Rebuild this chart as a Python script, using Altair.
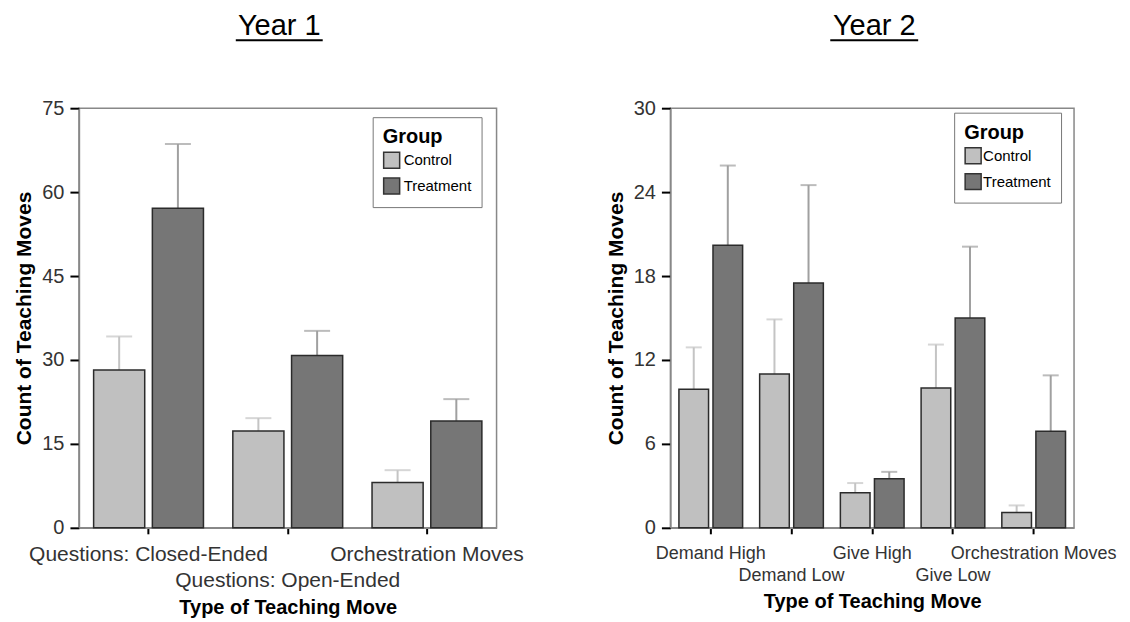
import altair as alt
import pandas as pd

# ---- data ----
groups = ["Control", "Treatment"]

y1_categories = ["Questions: Closed-Ended", "Questions: Open-Ended", "Orchestration Moves"]
y1_control = [28.2, 17.3, 8.1]
y1_control_upper = [34.2, 19.6, 10.3]
y1_treatment = [57.1, 30.8, 19.1]
y1_treatment_upper = [68.6, 35.2, 23.0]
y1_ticks = [0, 15, 30, 45, 60, 75]

y2_categories = ["Demand High", "Demand Low", "Give High", "Give Low", "Orchestration Moves"]
y2_control = [9.9, 11.0, 2.5, 10.0, 1.1]
y2_control_upper = [12.9, 14.9, 3.2, 13.1, 1.6]
y2_treatment = [20.2, 17.5, 3.5, 15.0, 6.9]
y2_treatment_upper = [25.9, 24.5, 4.0, 20.1, 10.9]
y2_ticks = [0, 6, 12, 18, 24, 30]

y1_second_row = ["Questions: Open-Ended"]
y2_second_row = ["Demand Low", "Give Low"]

FONT = "Liberation Sans"


def make_df(cats, c, cu, t, tu):
    rows = []
    for i, cat in enumerate(cats):
        rows.append({"category": cat, "group": "Control", "value": c[i], "upper": cu[i]})
        rows.append({"category": cat, "group": "Treatment", "value": t[i], "upper": tu[i]})
    return pd.DataFrame(rows)


def panel(cats, c, cu, t, tu, ticks, second_row, title_text, width, label_fs,
          line_h, legend_x, legend_y, cap, title_x, ul_half, lab_pad, x_title_pad, leg_lab_off):
    df = make_df(cats, c, cu, t, tu)
    lst = "[" + ",".join("'" + s + "'" for s in second_row) + "]"
    x_axis = alt.Axis(
        title="Type of Teaching Move", titleFontSize=20, titleFontWeight="bold",
        titleColor="#000", titlePadding=x_title_pad,
        labelFontSize=label_fs, labelColor="#333", labelAngle=0, labelOverlap=False,
        labelLimit=0, labelBound=False, labelFlush=False, labelPadding=lab_pad,
        labelLineHeight=line_h, labelBaseline="top",
        labelExpr="indexof(" + lst + ", datum.value) >= 0 ? ['', datum.value] : datum.value",
        domainColor="#888", domainWidth=1.5, tickColor="#000", tickWidth=2, tickSize=6,
    )
    y_axis = alt.Axis(
        title="Count of Teaching Moves", titleFontSize=21, titleFontWeight="bold",
        titleColor="#000", titlePadding=7, values=ticks,
        labelFontSize=20, labelColor="#333", labelPadding=6,
        domainColor="#888", domainWidth=1.5, tickColor="#000", tickWidth=2, tickSize=9,
        grid=False,
    )
    base = alt.Chart(df).encode(
        x=alt.X("category:N", sort=cats, axis=x_axis,
                scale=alt.Scale(paddingInner=0, paddingOuter=0)),
        xOffset=alt.XOffset("group:N", sort=groups,
                            scale=alt.Scale(paddingInner=0.13, paddingOuter=0.25)),
    )
    err_color = alt.condition(alt.datum.group == "Control", alt.value("#c4c4c4"), alt.value("#a0a0a0"))
    rules = base.mark_rule(strokeWidth=2).encode(
        y=alt.Y("value:Q", scale=alt.Scale(domain=[ticks[0], ticks[-1]], nice=False, zero=True), axis=y_axis),
        y2="upper:Q", color=err_color)
    caps = base.mark_tick(thickness=2, size=cap, orient="horizontal").encode(
        y="upper:Q", color=err_color)
    bars = base.mark_bar(stroke="#2b2b2b", strokeWidth=1.5).encode(
        y="value:Q",
        fill=alt.Fill("group:N", sort=groups,
                      scale=alt.Scale(domain=groups, range=["#c0c0c0", "#767676"]),
                      legend=alt.Legend(
                          title="Group", orient="none", legendX=legend_x, legendY=legend_y,
                          titleFontSize=20, titleFontWeight="bold", titleColor="#000",
                          titlePadding=4,
                          labelFontSize=15, labelColor="#000", labelOffset=leg_lab_off,
                          symbolType="square", symbolSize=256, symbolStrokeColor="#333",
                          symbolStrokeWidth=1.5, strokeColor="#777", fillColor="#fff",
                          padding=10, rowPadding=4)))
    tdf = pd.DataFrame({"t": [title_text]})
    title = alt.Chart(tdf).mark_text(fontSize=29, font=FONT, color="#000",
                                     align="center", baseline="alphabetic").encode(
        text="t:N", x=alt.value(title_x), y=alt.value(-73))
    underline = alt.Chart(tdf).mark_rule(color="#000", strokeWidth=2).encode(
        x=alt.value(title_x - ul_half), x2=alt.value(title_x + ul_half), y=alt.value(-68))
    return alt.layer(rules, caps, bars, title, underline).properties(width=width, height=420)


left = panel(y1_categories, y1_control, y1_control_upper, y1_treatment, y1_treatment_upper,
             y1_ticks, y1_second_row, "Year 1", 418, 21, 26, 294, 9, 26, 200.5, 43.5, 10, 7, 3)
right = panel(y2_categories, y2_control, y2_control_upper, y2_treatment, y2_treatment_upper,
              y2_ticks, y2_second_row, "Year 2", 404, 18, 22, 284, 4.5, 16, 204, 44, 11, 7, 1)

chart = alt.hconcat(left, right, spacing=80).resolve_scale(
    x="independent", y="independent", fill="independent", xOffset="independent"
).resolve_legend(fill="independent").configure(
    font=FONT, padding={"left": 5, "top": 3, "right": 5, "bottom": 5}
).configure_view(stroke="#888", strokeWidth=1.5)

chart.save("out.html", embed_options={"renderer": "svg", "actions": False})
